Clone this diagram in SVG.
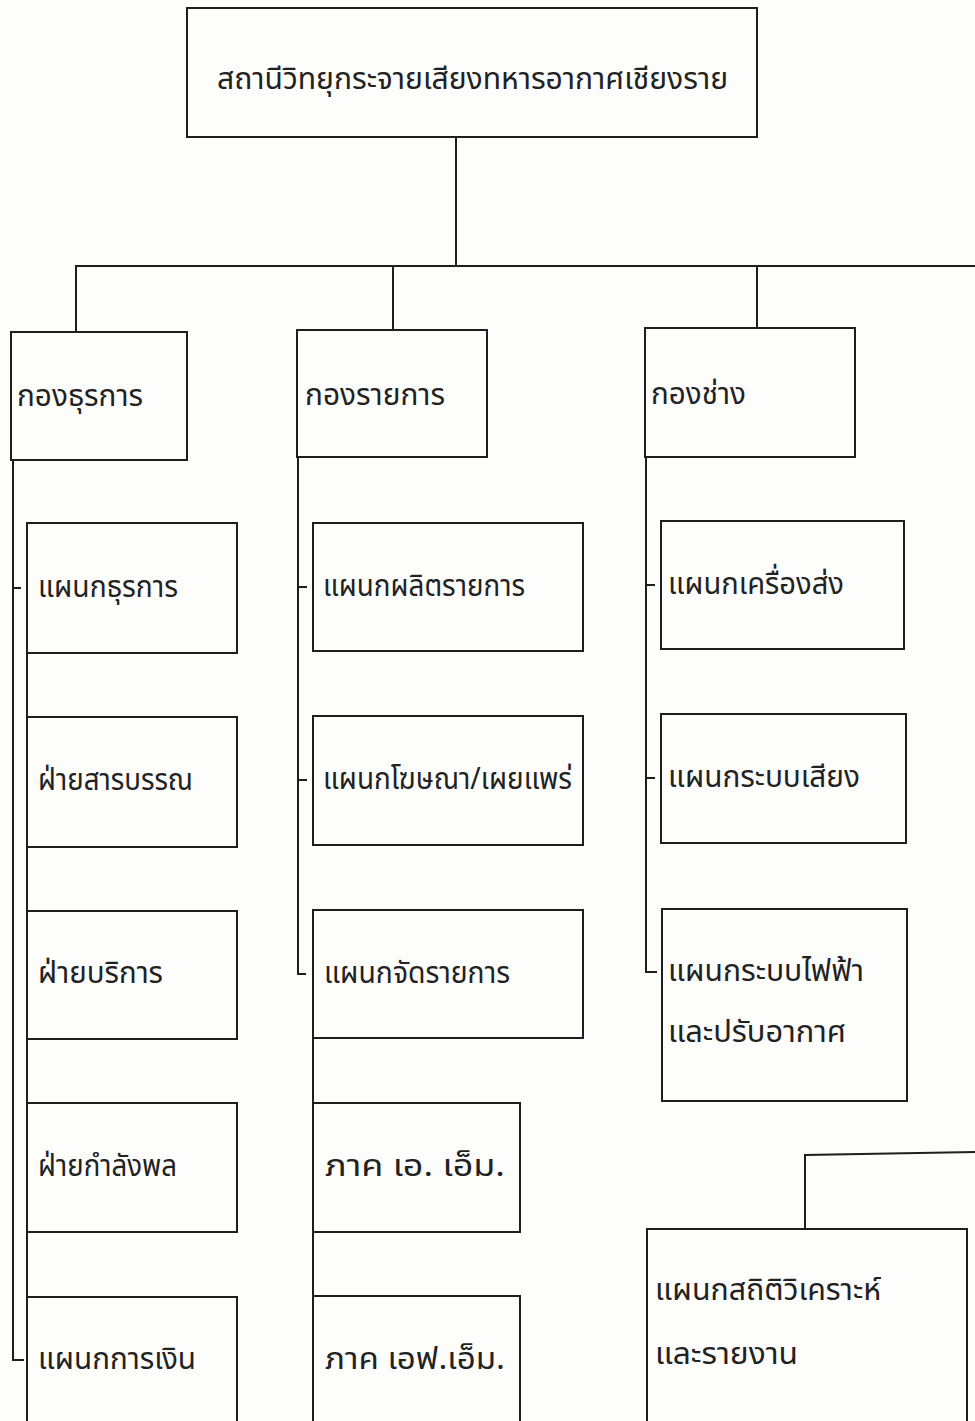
<svg xmlns="http://www.w3.org/2000/svg" width="975" height="1421" viewBox="0 0 975 1421">
<style>
.box{fill:none;stroke:#1e1e1e;stroke-width:2}
.c{fill:none;stroke:#1e1e1e;stroke-width:2}
.t{font-family:"Noto Sans Thai","Noto Sans","DejaVu Sans",sans-serif;font-size:30px;fill:#222}
</style>
<rect width="975" height="1421" fill="#fdfdfb"/>
<g id="connectors">
<path class="c" d="M456,137V266"/>
<path class="c" d="M76,332V266H975"/>
<path class="c" d="M393,266V330"/>
<path class="c" d="M757,266V328"/>
<path class="c" d="M13,460V1360H24"/>
<path class="c" d="M13,588H21"/>
<path class="c" d="M27,523V1421"/>
<path class="c" d="M298,457V974H306"/>
<path class="c" d="M298,587H307M298,780H307"/>
<path class="c" d="M313,910V1421"/>
<path class="c" d="M646,457V972H657"/>
<path class="c" d="M646,585H655M646,778H655"/>
<path class="c" d="M975,1152L805,1155V1229"/>
</g>
<g id="n-root"><rect class="box" x="187" y="8" width="570" height="129"/><text class="t" x="217" y="89" textLength="511" lengthAdjust="spacingAndGlyphs">สถานีวิทยุกระจายเสียงทหารอากาศเชียงราย</text></g>
<g id="n-g1"><rect class="box" x="11" y="332" width="176" height="128"/><text class="t" x="17" y="406" textLength="126" lengthAdjust="spacingAndGlyphs">กองธุรการ</text></g>
<g id="n-g2"><rect class="box" x="297" y="330" width="190" height="127"/><text class="t" x="305" y="405" textLength="140" lengthAdjust="spacingAndGlyphs">กองรายการ</text></g>
<g id="n-g3"><rect class="box" x="645" y="328" width="210" height="129"/><text class="t" x="651" y="404" textLength="95" lengthAdjust="spacingAndGlyphs">กองช่าง</text></g>
<g id="n-c1a"><rect class="box" x="27" y="523" width="210" height="130"/><text class="t" x="38" y="597" textLength="140" lengthAdjust="spacingAndGlyphs">แผนกธุรการ</text></g>
<g id="n-c1b"><rect class="box" x="27" y="717" width="210" height="130"/><text class="t" x="38" y="790" textLength="155" lengthAdjust="spacingAndGlyphs">ฝ่ายสารบรรณ</text></g>
<g id="n-c1c"><rect class="box" x="27" y="911" width="210" height="128"/><text class="t" x="38" y="983" textLength="125" lengthAdjust="spacingAndGlyphs">ฝ่ายบริการ</text></g>
<g id="n-c1d"><rect class="box" x="27" y="1103" width="210" height="129"/><text class="t" x="38" y="1176" textLength="139" lengthAdjust="spacingAndGlyphs">ฝ่ายกำลังพล</text></g>
<g id="n-c1e"><rect class="box" x="27" y="1297" width="210" height="130"/><text class="t" x="38" y="1369" textLength="158" lengthAdjust="spacingAndGlyphs">แผนกการเงิน</text></g>
<g id="n-c2a"><rect class="box" x="313" y="523" width="270" height="128"/><text class="t" x="323" y="596" textLength="202" lengthAdjust="spacingAndGlyphs">แผนกผลิตรายการ</text></g>
<g id="n-c2b"><rect class="box" x="313" y="716" width="270" height="129"/><text class="t" x="323" y="789" textLength="249" lengthAdjust="spacingAndGlyphs">แผนกโฆษณา/เผยแพร่</text></g>
<g id="n-c2c"><rect class="box" x="313" y="910" width="270" height="128"/><text class="t" x="324" y="983" textLength="186" lengthAdjust="spacingAndGlyphs">แผนกจัดรายการ</text></g>
<g id="n-c2d"><rect class="box" x="313" y="1103" width="207" height="129"/><text class="t" x="325" y="1176" textLength="180" lengthAdjust="spacingAndGlyphs">ภาค เอ. เอ็ม.</text></g>
<g id="n-c2e"><rect class="box" x="313" y="1296" width="207" height="131"/><text class="t" x="325" y="1369" textLength="180" lengthAdjust="spacingAndGlyphs">ภาค เอฟ.เอ็ม.</text></g>
<g id="n-c3a"><rect class="box" x="661" y="521" width="243" height="128"/><text class="t" x="668" y="594" textLength="176" lengthAdjust="spacingAndGlyphs">แผนกเครื่องส่ง</text></g>
<g id="n-c3b"><rect class="box" x="661" y="714" width="245" height="129"/><text class="t" x="668" y="787" textLength="192" lengthAdjust="spacingAndGlyphs">แผนกระบบเสียง</text></g>
<g id="n-c3c"><rect class="box" x="662" y="909" width="245" height="192"/><text class="t" x="668" y="981" textLength="196" lengthAdjust="spacingAndGlyphs">แผนกระบบไฟฟ้า</text><text class="t" x="668" y="1042" textLength="178" lengthAdjust="spacingAndGlyphs">และปรับอากาศ</text></g>
<g id="n-stat"><rect class="box" x="647" y="1229" width="320" height="200"/><text class="t" x="655" y="1300" textLength="226" lengthAdjust="spacingAndGlyphs">แผนกสถิติวิเคราะห์</text><text class="t" x="655" y="1364" textLength="143" lengthAdjust="spacingAndGlyphs">และรายงาน</text></g>
</svg>
